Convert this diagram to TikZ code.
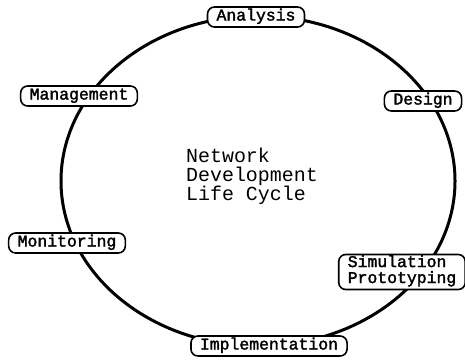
\documentclass[tikz,border=0pt]{standalone}
\usepackage{fontspec}
\newfontfamily\boxfont{Liberation Mono}[FakeBold=2]
\newfontfamily\centerfont{Liberation Mono}
\begin{document}
\begin{tikzpicture}[x=1bp,y=-1bp,
  stage/.style={draw,line width=1.6bp,rounded corners=7bp,fill=white,
    font=\boxfont\fontsize{16.5}{16}\selectfont,inner xsep=9bp,inner ysep=3.5bp,
    text height=10bp,text depth=3bp,align=left},
  cyc/.style={line width=3bp}]
\useasboundingbox (0,0) rectangle (465,359);
\coordinate (c) at (258,181);
\draw[cyc] (c) ellipse [x radius=197bp, y radius=165bp];
\node[stage] (ana) at (256,17) {Analysis};
\node[stage] (des) at (423,101) {Design};
\node[stage,text height=25bp] (sim) at (402,272) {Simulation\\Prototyping};
\node[stage] (imp) at (269,346) {Implementation};
\node[stage] (mon) at (67,243) {Monitoring};
\node[stage] (man) at (79,96) {Management};
\node[font=\centerfont\fontsize{20}{18.5}\selectfont,align=left,anchor=north west,inner sep=0pt] (ndlc) at (186,148) {Network\\Development\\Life Cycle};
\end{tikzpicture}
\end{document}
